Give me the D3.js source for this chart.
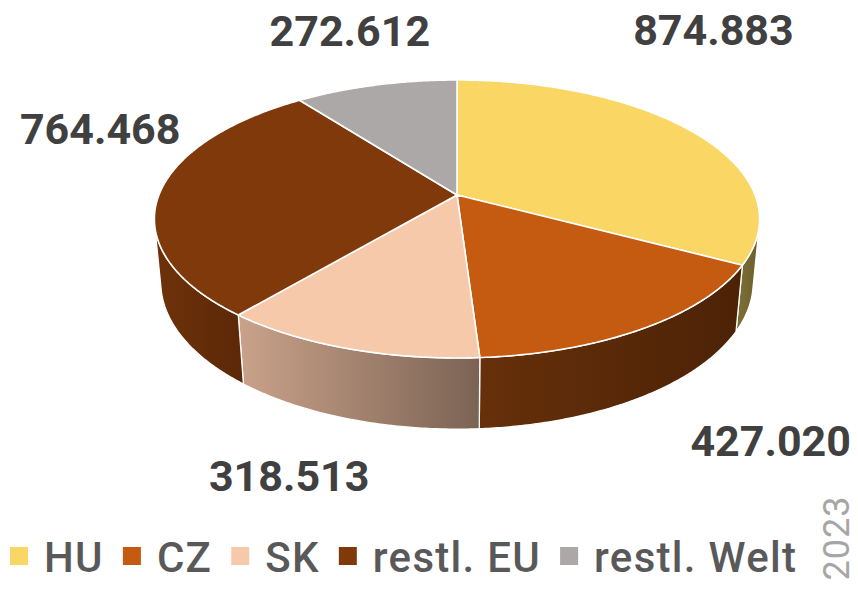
<!DOCTYPE html>
<html>
<head>
<meta charset="utf-8">
<script src="https://cdn.jsdelivr.net/npm/d3@7/dist/d3.min.js"></script>
<style>
  html, body { margin: 0; padding: 0; background: #fff; }
  svg { display: block; font-family: Roboto, "Noto Sans", sans-serif; }
</style>
</head>
<body>
<div id="chart"></div>
<script>
// data
const categories = ['HU', 'CZ', 'SK', 'restl. EU', 'restl. Welt'];
const values = [874.883, 427.020, 318.513, 764.468, 272.612];
const valueLabels = ['874.883', '427.020', '318.513', '764.468', '272.612'];
const yearLabel = '2023';

// styles
const topColors = ['#FAD664', '#C55A11', '#F6C9AB', '#7F390B', '#ABA8A7'];
const sideColors = [['#7E7038', '#6A5E2C'], ['#66300A', '#4C2206'], ['#CAA28A', '#7B6354'], ['#6E320A', '#5C2807'], ['#8A8686', '#6E6B6B']];
// label offsets from the rim point at mid angle
const labelOffsets = [[21, -102], [126, 113], [-58, 127], [-60, -63], [-26, -55]];

const W = 858, H = 590;
const cx = 457, cy = 195;
const tilt = 26.9 * Math.PI / 180, ca = Math.cos(tilt), sa = Math.sin(tilt);
const dist = 5.17, focal = 1541, depth = 0.24;

const svg = d3.select('#chart').append('svg')
    .attr('width', W)
    .attr('height', H);

// perspective projection of a point on the pie (theta clockwise from 12 o'clock)
function project(theta, r, y) {
    const x = r * Math.sin(theta), z = -r * Math.cos(theta);
    const u = y * ca - z * sa;
    const d = dist - z * ca - y * sa;
    return [cx + focal * x / d, cy - focal * u / d];
}

function arcPoints(a, b, y) {
    const n = Math.max(2, Math.ceil(Math.abs(b - a) / (Math.PI / 360)));
    return d3.range(n + 1).map(i => project(a + (b - a) * i / n, 1, y));
}

const pie = d3.pie().sort(null).value(d => d)(values);
const line = d3.line();

const defs = svg.append('defs');

// visible range of the outer wall
const visA = Math.acos(-1 / (dist * ca)), visB = 2 * Math.PI - visA;

const walls = svg.append('g');
pie.forEach((p, i) => {
    const s = Math.max(p.startAngle, visA), e = Math.min(p.endAngle, visB);
    if (e <= s) return;
    const topArc = arcPoints(s, e, 0);
    const botArc = arcPoints(e, s, -depth);
    const pts = topArc.concat(botArc);
    const xs = pts.map(q => q[0]);
    const gid = 'side' + i;
    const g = defs.append('linearGradient')
        .attr('id', gid)
        .attr('gradientUnits', 'userSpaceOnUse')
        .attr('x1', d3.min(xs)).attr('x2', d3.max(xs))
        .attr('y1', 0).attr('y2', 0);
    g.append('stop').attr('offset', 0).attr('stop-color', sideColors[i][0]);
    g.append('stop').attr('offset', 1).attr('stop-color', sideColors[i][1]);
    walls.append('path')
        .attr('d', line(pts) + 'Z')
        .attr('fill', `url(#${gid})`)
        .attr('stroke', '#fff')
        .attr('stroke-width', 1.3)
        .attr('stroke-linejoin', 'round');
});

const tops = svg.append('g');
pie.forEach((p, i) => {
    const pts = [project(0, 0, 0)].concat(arcPoints(p.startAngle, p.endAngle, 0));
    tops.append('path')
        .attr('d', line(pts) + 'Z')
        .attr('fill', topColors[i])
        .attr('stroke', '#fff')
        .attr('stroke-width', 1.6)
        .attr('stroke-linejoin', 'round');
});

// value labels
svg.append('g')
    .selectAll('text')
    .data(pie)
    .join('text')
    .attr('x', (p, i) => project((p.startAngle + p.endAngle) / 2, 1, 0)[0] + labelOffsets[i][0])
    .attr('y', (p, i) => project((p.startAngle + p.endAngle) / 2, 1, 0)[1] + labelOffsets[i][1])
    .attr('dy', '0.36em')
    .attr('text-anchor', 'middle')
    .attr('font-size', 43)
    .attr('font-weight', 700)
    .attr('fill', '#404040')
    .text((p, i) => valueLabels[i]);

// legend
const legend = svg.append('g');
let lx = 10;
categories.forEach((c, i) => {
    legend.append('rect')
        .attr('x', lx).attr('y', 547)
        .attr('width', 18).attr('height', 18)
        .attr('fill', topColors[i]);
    const t = legend.append('text')
        .attr('x', lx + 34).attr('y', 572)
        .attr('font-size', 42)
        .attr('font-weight', 500)
        .attr('letter-spacing', 1.3)
        .attr('fill', '#595959')
        .text(c);
    lx += 34 + t.node().getComputedTextLength() + 19;
});

svg.append('text')
    .attr('transform', 'translate(849, 538) rotate(-90)')
    .attr('text-anchor', 'middle')
    .attr('font-size', 36)
    .attr('letter-spacing', 1)
    .attr('fill', '#A6A6A6')
    .text(yearLabel);
</script>
</body>
</html>
